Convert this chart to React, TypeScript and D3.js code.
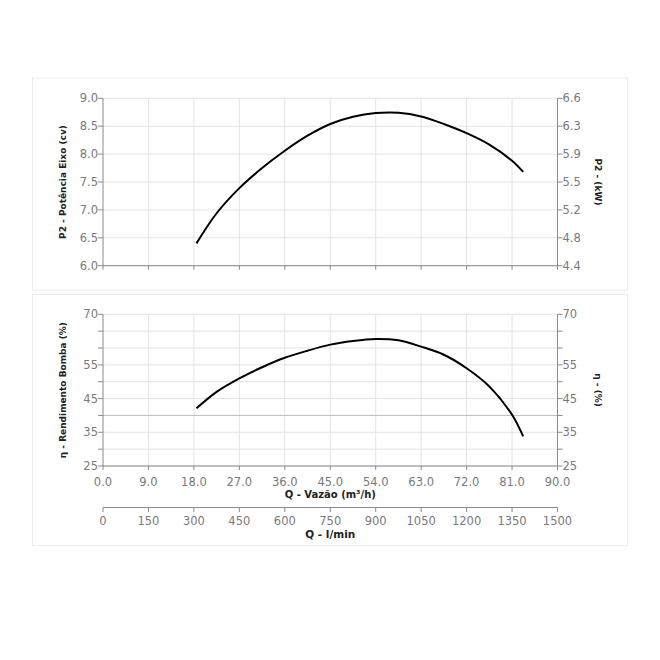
import React from "react";
import * as d3 from "d3";

// ---- data ----
const flowQ = [18.5, 22.5, 27, 31.5, 36, 40.5, 45, 49.5, 54, 58.5, 63, 67.5, 72, 76.5, 81, 83.2];
const powerCv = [6.4, 6.94, 7.39, 7.75, 8.06, 8.33, 8.54, 8.67, 8.735, 8.74, 8.675, 8.54, 8.375, 8.17, 7.88, 7.68];
const efficiency = [42.1, 47.0, 51.0, 54.3, 57.1, 59.2, 61.0, 62.1, 62.7, 62.3, 60.4, 58.0, 54.0, 48.6, 40.2, 33.8];

const qTicks = [0, 9, 18, 27, 36, 45, 54, 63, 72, 81, 90];
const lminTicks = [0, 150, 300, 450, 600, 750, 900, 1050, 1200, 1350, 1500];
const powerTicks = [6.0, 6.5, 7.0, 7.5, 8.0, 8.5, 9.0];
const kwLabels = ["4.4", "4.8", "5.2", "5.5", "5.9", "6.3", "6.6"];
const effGrid = [25, 30, 35, 40, 45, 50, 55, 60, 65, 70];
const effLabels = [25, 35, 45, 55, 70];

const FONT = "DejaVu Sans, Verdana, sans-serif";
const GRID = "#e3e3e3";
const AXIS = "#8a8a8a";
const LABEL = "#7a7a7a";

type Pt = { q: number; p: number; e: number };

export default function App() {
  const x = d3.scaleLinear().domain([0, 90]).range([103, 557.5]);
  const xl = d3.scaleLinear().domain([0, 1500]).range([103, 557.5]);
  const yP = d3.scaleLinear().domain([6, 9]).range([265.7, 98.3]);
  const yE = d3.scaleLinear().domain([25, 70]).range([466, 314.3]);

  const pts: Pt[] = flowQ.map((q, i) => ({ q, p: powerCv[i], e: efficiency[i] }));
  const lineP = d3
    .line<Pt>()
    .x((d) => x(d.q))
    .y((d) => yP(d.p))
    .curve(d3.curveCatmullRom.alpha(0.5));
  const lineE = d3
    .line<Pt>()
    .x((d) => x(d.q))
    .y((d) => yE(d.e))
    .curve(d3.curveCatmullRom.alpha(0.5));

  const [x0, x1] = x.range();
  const midX = (x0 + x1) / 2;

  return (
    <svg
      width={660}
      height={660}
      style={{ position: "absolute", left: 0, top: 0, background: "#fff" }}
      fontFamily={FONT}
    >
      {/* panel frames */}
      <rect x={32.5} y={78} width={595} height={212} fill="#fff" stroke="#ececec" />
      <rect x={32.5} y={294.5} width={595} height={251} fill="#fff" stroke="#ececec" />

      {/* ---- top panel ---- */}
      <g>
        {qTicks.slice(1, -1).map((t) => (
          <line key={"tv" + t} x1={x(t)} x2={x(t)} y1={yP(9)} y2={yP(6)} stroke={GRID} />
        ))}
        {powerTicks.map((t) => (
          <line key={"th" + t} x1={x0} x2={x1} y1={yP(t)} y2={yP(t)} stroke={GRID} />
        ))}
        <line x1={x0} x2={x0} y1={yP(9)} y2={yP(6)} stroke={AXIS} />
        <line x1={x1} x2={x1} y1={yP(9)} y2={yP(6)} stroke={AXIS} />
        <line x1={x0} x2={x1} y1={yP(6)} y2={yP(6)} stroke={AXIS} />
        {qTicks.map((t) => (
          <line key={"tqt" + t} x1={x(t)} x2={x(t)} y1={yP(6)} y2={yP(6) + 4} stroke={AXIS} />
        ))}
        {powerTicks.map((t, i) => (
          <g key={"pl" + t}>
            <line x1={x0 - 5} x2={x0} y1={yP(t)} y2={yP(t)} stroke={AXIS} />
            <line x1={x1} x2={x1 + 5} y1={yP(t)} y2={yP(t)} stroke={AXIS} />
            <text x={x0 - 5} y={yP(t)} dy="0.35em" textAnchor="end" fontSize={11.5} fill={LABEL}>
              {t.toFixed(1)}
            </text>
            <text x={x1 + 5} y={yP(t)} dy="0.35em" textAnchor="start" fontSize={11.5} fill={LABEL}>
              {kwLabels[i]}
            </text>
          </g>
        ))}
        <text
          transform={`translate(66,${(yP(6) + yP(9)) / 2}) rotate(-90)`}
          textAnchor="middle"
          fontSize={9}
          fontWeight="bold"
          fill="#222"
        >
          P2 - Potência Eixo (cv)
        </text>
        <text
          transform={`translate(595,${(yP(6) + yP(9)) / 2}) rotate(90)`}
          textAnchor="middle"
          fontSize={9}
          fontWeight="bold"
          fill="#222"
        >
          P2 - (kW)
        </text>
        <path d={lineP(pts) || ""} fill="none" stroke="#000" strokeWidth={2} />
      </g>

      {/* ---- bottom panel ---- */}
      <g>
        {qTicks.slice(1, -1).map((t) => (
          <line key={"bv" + t} x1={x(t)} x2={x(t)} y1={yE(70)} y2={yE(25)} stroke={GRID} />
        ))}
        {effGrid.map((t) => (
          <line
            key={"bh" + t}
            x1={x0}
            x2={x1}
            y1={yE(t)}
            y2={yE(t)}
            stroke={t === 40 ? "#bdbdbd" : GRID}
          />
        ))}
        <line x1={x0} x2={x0} y1={yE(70)} y2={yE(25)} stroke={AXIS} />
        <line x1={x1} x2={x1} y1={yE(70)} y2={yE(25)} stroke={AXIS} />
        <line x1={x0} x2={x1} y1={yE(25)} y2={yE(25)} stroke={AXIS} />
        {effGrid.map((t) => (
          <g key={"et" + t}>
            <line x1={x0 - 5} x2={x0} y1={yE(t)} y2={yE(t)} stroke={AXIS} />
            <line x1={x1} x2={x1 + 5} y1={yE(t)} y2={yE(t)} stroke={AXIS} />
          </g>
        ))}
        {effLabels.map((t) => (
          <g key={"el" + t}>
            <text x={x0 - 5} y={yE(t)} dy="0.35em" textAnchor="end" fontSize={11.5} fill={LABEL}>
              {t}
            </text>
            <text x={x1 + 5} y={yE(t)} dy="0.35em" textAnchor="start" fontSize={11.5} fill={LABEL}>
              {t}
            </text>
          </g>
        ))}
        {qTicks.map((t) => (
          <g key={"ql" + t}>
            <line x1={x(t)} x2={x(t)} y1={yE(25)} y2={yE(25) + 4} stroke={AXIS} />
            <text x={x(t)} y={485.5} textAnchor="middle" fontSize={11.5} fill={LABEL}>
              {t.toFixed(1)}
            </text>
          </g>
        ))}
        <text x={midX} y={497.5} textAnchor="middle" fontSize={10} fontWeight="bold" fill="#222">
          Q - Vazão (m³/h)
        </text>

        {/* l/min axis */}
        <line x1={xl(0)} x2={xl(1500)} y1={507.5} y2={507.5} stroke={AXIS} />
        {lminTicks.map((t) => (
          <g key={"lm" + t}>
            <line x1={xl(t)} x2={xl(t)} y1={507.5} y2={512} stroke={AXIS} />
            <text x={xl(t)} y={525} textAnchor="middle" fontSize={11.5} fill={LABEL}>
              {t}
            </text>
          </g>
        ))}
        <text x={midX} y={537.5} textAnchor="middle" fontSize={10.5} fontWeight="bold" fill="#222">
          Q - l/min
        </text>

        <text
          transform={`translate(66,${(yE(25) + yE(70)) / 2}) rotate(-90)`}
          textAnchor="middle"
          fontSize={9}
          fontWeight="bold"
          fill="#222"
        >
          η - Rendimento Bomba (%)
        </text>
        <text
          transform={`translate(595,${(yE(25) + yE(70)) / 2}) rotate(90)`}
          textAnchor="middle"
          fontSize={9}
          fontWeight="bold"
          fill="#222"
        >
          η - (%)
        </text>
        <path d={lineE(pts) || ""} fill="none" stroke="#000" strokeWidth={2} />
      </g>
    </svg>
  );
}
